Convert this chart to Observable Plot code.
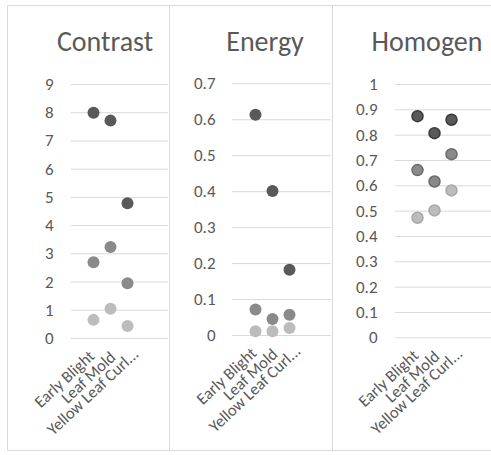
<!DOCTYPE html>
<html>
<head>
<meta charset="utf-8">
<script src="https://cdn.jsdelivr.net/npm/d3@7"></script>
<script src="https://cdn.jsdelivr.net/npm/@observablehq/plot@0.6"></script>
<style>
  html, body { margin: 0; padding: 0; background: #fff; }
  body { width: 491px; height: 455px; position: relative; overflow: hidden; font-family: Carlito, Calibri, Lato, sans-serif; }
  .panel { position: absolute; box-sizing: border-box; border: 1px solid #d9d9d9; }
  .title { position: absolute; width: 200px; text-align: center; font-size: 28px; line-height: 28px; color: #595959; white-space: nowrap; }
  .chart { position: absolute; top: 60px; }
  .chart svg { display: block; overflow: visible; }
</style>
</head>
<body>
<script>
// ---- data ----
const categories = ["Early Blight", "Leaf Mold", "Yellow Leaf Curl..."];
const panelTitles = ["Contrast", "Energy", "Homogen"];

const contrastDark   = [8.0, 7.72, 4.79];
const contrastMedium = [2.7, 3.24, 1.96];
const contrastLight  = [0.66, 1.05, 0.44];

const energyDark   = [0.614, 0.402, 0.183];
const energyMedium = [0.072, 0.046, 0.058];
const energyLight  = [0.012, 0.012, 0.021];

const homogenDark   = [0.875, 0.808, 0.861];
const homogenMedium = [0.662, 0.617, 0.725];
const homogenLight  = [0.474, 0.503, 0.582];

const contrastTicks = [0, 1, 2, 3, 4, 5, 6, 7, 8, 9];
const energyTicks = [0, 0.1, 0.2, 0.3, 0.4, 0.5, 0.6, 0.7];
const homogenTicks = [0, 0.1, 0.2, 0.3, 0.4, 0.5, 0.6, 0.7, 0.8, 0.9, 1];

// ---- layout ----
const FONT = "Carlito, Calibri, Lato, sans-serif";
const seriesColors = ["#595959", "#8a8a8a", "#bcbcbc"];
const seriesStrokes = ["#3a3a3a", "#6a6a6a", "#a8a8a8"];
const labelShift = [[2, 19], [6, 20], [12, 17]]; // per-label [dx, dy] in px

const panels = [
  {title: panelTitles[0], series: [contrastDark, contrastMedium, contrastLight], ticks: contrastTicks,
   left: 7, width: 162, boxW: 163, titleX: 105, mt: 24, mb: 112, ml: 64, mr: 1, xr: [77, 129], pad: 18, r: 6, stroke: false},
  {title: panelTitles[1], series: [energyDark, energyMedium, energyLight], ticks: energyTicks,
   left: 169, width: 163, boxW: 164, titleX: 265, mt: 23.3, mb: 115, ml: 63, mr: 1, xr: [76.7, 128.7], pad: 17, r: 6, stroke: false},
  {title: panelTitles[2], series: [homogenDark, homogenMedium, homogenLight], ticks: homogenTicks,
   left: 332, width: 159, boxW: 170, titleX: 427, mt: 24, mb: 112.7, ml: 63, mr: 0, xr: [75.7, 129], pad: 18, r: 5.5, stroke: true}
];

const fmt = d => d === 0 ? "0" : String(+d.toFixed(1));

for (const p of panels) {
  const box = document.createElement("div");
  box.className = "panel";
  box.style.left = p.left + "px";
  box.style.top = "5px";
  box.style.width = p.boxW + "px";
  box.style.height = "446px";
  document.body.appendChild(box);

  const t = document.createElement("div");
  t.className = "title";
  t.textContent = p.title;
  t.style.left = (p.titleX - 100) + "px";
  t.style.top = "28px";
  document.body.appendChild(t);

  const dotMarks = p.series.map((vals, si) => Plot.dot(
    categories.map((c, i) => ({cat: c, v: vals[i]})),
    {x: "cat", y: "v", r: p.r, fill: seriesColors[si],
     stroke: p.stroke ? seriesStrokes[si] : "none", strokeWidth: p.stroke ? 1.5 : 0}
  ));

  const labelMarks = categories.map((c, i) => Plot.text([c], {
    x: d => d, frameAnchor: "bottom", rotate: -43, textAnchor: "end", lineAnchor: "bottom",
    dx: labelShift[i][0], dy: labelShift[i][1], fill: "#595959", fontSize: 16.5, fontFamily: FONT
  }));

  const chart = Plot.plot({
    width: p.width,
    height: 390,
    marginTop: p.mt,
    marginBottom: p.mb,
    marginLeft: p.ml,
    marginRight: p.mr,
    style: {fontFamily: FONT, fontSize: "17px", color: "#595959", background: "transparent", overflow: "visible"},
    x: {type: "point", domain: categories, range: p.xr, axis: null},
    y: {domain: [0, p.ticks[p.ticks.length - 1]], axis: null, label: null},
    marks: [
      Plot.gridY(p.ticks, {stroke: "#d9d9d9", strokeOpacity: 1, strokeWidth: 1}),
      Plot.axisY(p.ticks, {tickSize: 0, tickPadding: p.pad, tickFormat: fmt, fill: "#595959", fontSize: 17, fontFamily: FONT, label: null}),
      ...dotMarks,
      ...labelMarks
    ]
  });
  const holder = document.createElement("div");
  holder.className = "chart";
  holder.style.left = p.left + "px";
  holder.appendChild(chart);
  document.body.appendChild(holder);
}
</script>
</body>
</html>
